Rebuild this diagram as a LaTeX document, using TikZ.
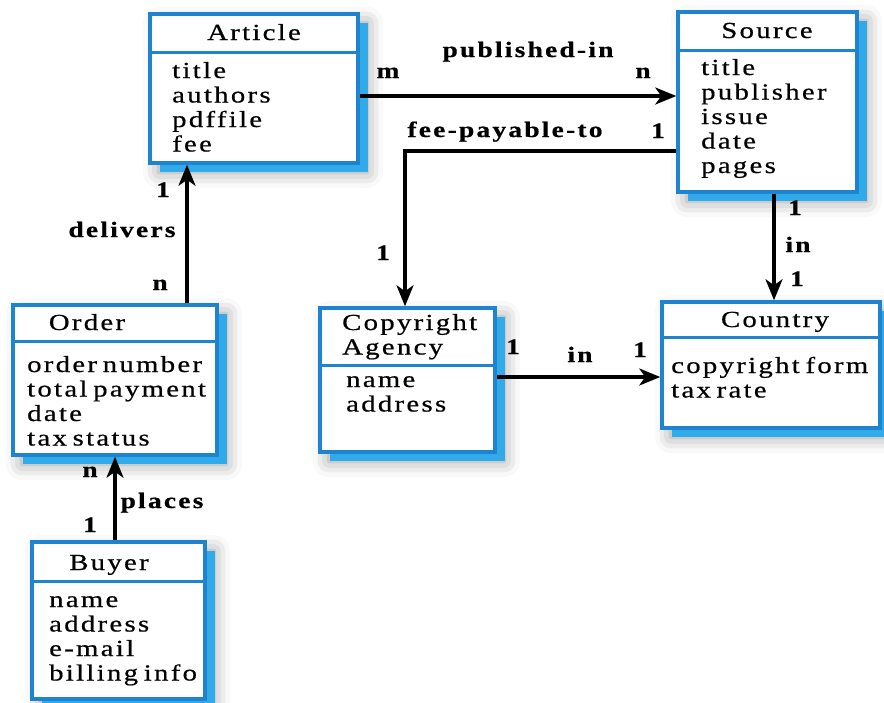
\documentclass[tikz,border=0pt]{standalone}
\usepackage{fontspec}
\newfontfamily\dfont{Liberation Serif}[FakeStretch=1.25,LetterSpace=10,WordSpace=0.6,FakeBold=0.6]
\usetikzlibrary{arrows.meta,shadows,shadows.blur}
\definecolor{boxblue}{RGB}{30,132,208}
\definecolor{shblue}{RGB}{48,170,232}
\newcommand{\attrlist}[1]{\begin{tabular}[t]{@{}l@{}}#1\end{tabular}}
\tikzset{
  box/.style={draw=boxblue, line width=3.5pt, fill=white, inner sep=0pt,
    blur shadow={shadow xshift=9pt, shadow yshift=-9pt, shadow blur radius=16pt, shadow opacity=40},
    drop shadow={shadow xshift=10pt, shadow yshift=-9pt, fill=shblue, opacity=1}},
  divider/.style={draw=boxblue, line width=3pt},
  ename/.style={font=\dfont\fontsize{23}{25}\selectfont, inner sep=0pt, anchor=base},
  attrs/.style={font=\dfont\fontsize{23}{24.5}\selectfont, inner sep=0pt, anchor=base west},
  lab/.style={font=\dfont\bfseries\fontsize{22}{24}\selectfont, inner sep=0pt, anchor=base},
  arr/.style={line width=3.3pt, -{Stealth[length=21pt,width=17pt,inset=6pt]}},
}
\begin{document}
\begin{tikzpicture}[x=1pt,y=-1pt]
\useasboundingbox (0,0) rectangle (884,702);
% Article
\node[box, minimum width=208pt, minimum height=149pt] (article) at (254,88.5) {};
\draw[divider] (article.west |- 0,52) -- (article.east |- 0,52);
\node[ename] (articleT) at (254,40) {Article};
\node[attrs] (articleA) at (172,78) {\attrlist{title\\authors\\pdffile\\fee}};
% Source
\node[box, minimum width=179pt, minimum height=180pt] (source) at (767.5,102) {};
\draw[divider] (source.west |- 0,50) -- (source.east |- 0,50);
\node[ename] (sourceT) at (767,38) {Source};
\node[attrs] (sourceA) at (701,75) {\attrlist{title\\publisher\\issue\\date\\pages}};
% Order
\node[box, minimum width=204pt, minimum height=150pt] (order) at (115,380) {};
\draw[divider] (order.west |- 0,341) -- (order.east |- 0,341);
\node[ename] (orderT) at (87,330) {Order};
\node[attrs] (orderA) at (27,372) {\attrlist{order number\\total payment\\date\\tax status}};
% Buyer
\node[box, minimum width=173pt, minimum height=157pt] (buyer) at (118.5,620.5) {};
\draw[divider] (buyer.west |- 0,581) -- (buyer.east |- 0,581);
\node[ename] (buyerT) at (109,570) {Buyer};
\node[attrs] (buyerA) at (49,607) {\attrlist{name\\address\\e-mail\\billing info}};
% Copyright Agency
\node[box, minimum width=175pt, minimum height=144pt] (agency) at (407.5,380) {};
\draw[divider] (agency.west |- 0,365) -- (agency.east |- 0,365);
\node[attrs] (agencyT) at (342,330) {\attrlist{Copyright\\Agency}};
\node[attrs] (agencyA) at (346,387) {\attrlist{name\\address}};
% Country
\node[box, minimum width=218pt, minimum height=126pt] (country) at (771,365) {};
\draw[divider] (country.west |- 0,337) -- (country.east |- 0,337);
\node[ename] (countryT) at (775,327) {Country};
\node[attrs] (countryA) at (671,373) {\attrlist{copyright form\\tax rate}};
% connectors
\draw[arr] (article.east |- 0,96) -- (source.west |- 0,96);
\node[lab] (pubL) at (528,57) {published-in};
\node[lab] (pubM) at (388,78) {m};
\node[lab] (pubN) at (643,78) {n};
\coordinate (feeBend) at (405,151);
\draw[arr] (source.west |- feeBend) -- (feeBend) -- (feeBend |- agency.north);
\node[lab] (feeL) at (505,137) {fee-payable-to};
\node[lab] (fee1) at (658,138) {1};
\node[lab] (fee2) at (383,260) {1};
\draw[arr] (source.south -| 774,0) -- (country.north -| 774,0);
\node[lab] (sc1) at (795,215) {1};
\node[lab] (scIn) at (798,252) {in};
\node[lab] (sc2) at (797,286) {1};
\draw[arr] (agency.east |- 0,377) -- (country.west |- 0,377);
\node[lab] (ac1) at (513,354) {1};
\node[lab] (acIn) at (580,362) {in};
\node[lab] (ac2) at (640,357) {1};
\draw[arr] (order.north -| 187,0) -- (article.south -| 187,0);
\node[lab] (del1) at (163,197) {1};
\node[lab] (delL) at (122,237) {delivers};
\node[lab] (delN) at (160,290) {n};
\draw[arr] (buyer.north -| 115,0) -- (order.south -| 115,0);
\node[lab] (plN) at (90,477) {n};
\node[lab] (plL) at (162,508) {places};
\node[lab] (pl1) at (90,532) {1};
\end{tikzpicture}
\end{document}
